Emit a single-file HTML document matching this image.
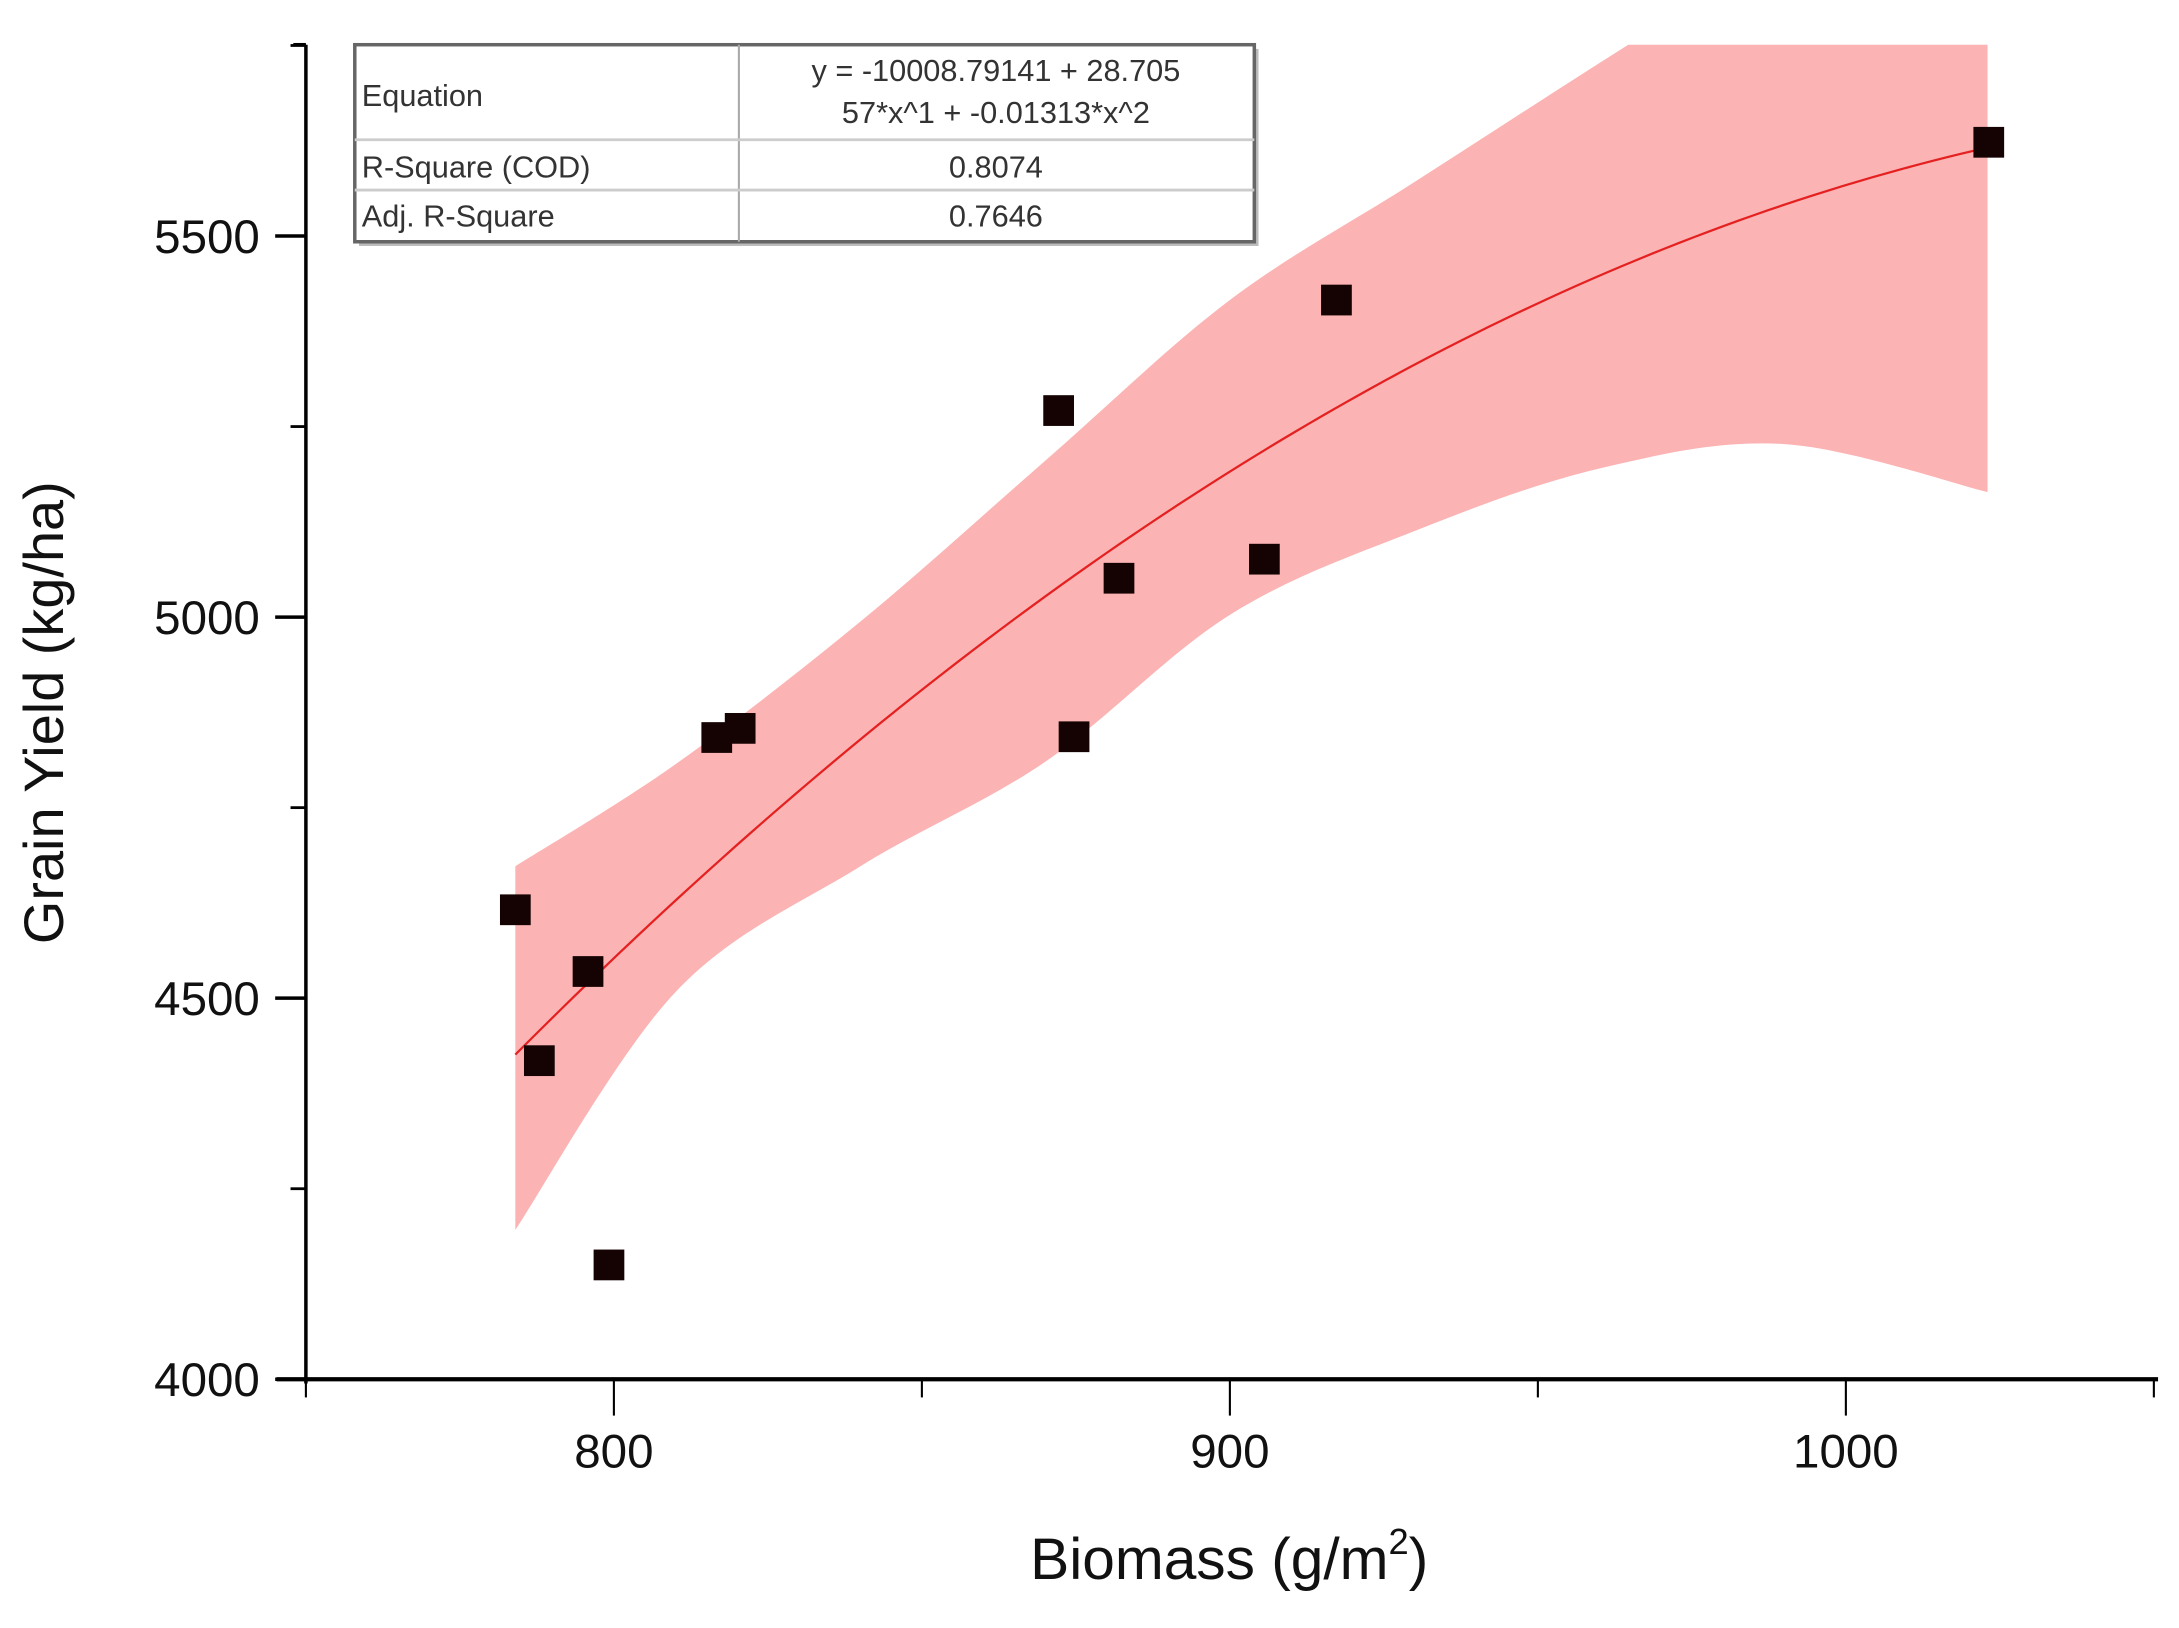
<!DOCTYPE html>
<html><head><meta charset="utf-8">
<style>
html,body{margin:0;padding:0;background:#fff;}
svg{display:block;}
text{font-family:"Liberation Sans",sans-serif;}
</style></head>
<body>
<svg id="chart" width="2179" height="1628" viewBox="0 0 1560 1165" preserveAspectRatio="none" xmlns="http://www.w3.org/2000/svg">
<defs><clipPath id="plotclip"><rect x="219" y="32" width="1326" height="955"/></clipPath></defs>
<g id="band" clip-path="url(#plotclip)"></g>
<g id="fit" clip-path="url(#plotclip)"></g>
<g id="pts"></g>
<g id="axes"></g>
<g id="table">
  <rect x="257" y="35" width="644" height="141" fill="#bbb"/>
  <rect x="254" y="32" width="644" height="141" fill="#fff" stroke="#666" stroke-width="2.5"/>
  <line x1="529" y1="32" x2="529" y2="173" stroke="#aaa" stroke-width="1.5"/>
  <line x1="254" y1="100" x2="898" y2="100" stroke="#ccc" stroke-width="2"/>
  <line x1="254" y1="136" x2="898" y2="136" stroke="#ccc" stroke-width="2"/>
  <text x="259" y="76" font-size="22" fill="#333">Equation</text>
  <text x="713" y="58" font-size="22" fill="#333" text-anchor="middle">y = -10008.79141 + 28.705</text>
  <text x="713" y="88" font-size="22" fill="#333" text-anchor="middle">57*x^1 + -0.01313*x^2</text>
  <text x="259" y="127" font-size="22" fill="#333">R-Square (COD)</text>
  <text x="713" y="127" font-size="22" fill="#333" text-anchor="middle">0.8074</text>
  <text x="259" y="162" font-size="22" fill="#333">Adj. R-Square</text>
  <text x="713" y="162" font-size="22" fill="#333" text-anchor="middle">0.7646</text>
</g>
<text x="45" y="510" font-size="40" fill="#111" text-anchor="middle" transform="rotate(-90 45 510)">Grain Yield (kg/ha)</text>
<text x="880" y="1130" font-size="42" fill="#111" text-anchor="middle">Biomass (g/m<tspan font-size="26" dy="-18">2</tspan><tspan dy="18">)</tspan></text>
</svg>
<script>
const xs = [784.0, 787.9, 795.8, 799.2, 816.7, 820.5, 872.2, 874.7, 882.0, 905.6, 917.3, 1023.2];
const ys = [4616, 4418, 4535, 4150, 4842, 4854, 5271, 4843, 5051, 5076, 5416, 5623];
const bandX = [784, 810, 840, 870, 900, 930, 960, 990, 1023];
const bandUpper = [4673, 4807, 4994, 5205, 5416, 5571, 5727, 5880, 6050];
const bandLower = [4196, 4508, 4673, 4810, 5003, 5113, 5195, 5227, 5164];
const coef = [-10008.79141, 28.70557, -0.01313];
const xTicks = [800, 900, 1000];
const xMinor = [750, 850, 950, 1050];
const yTicks = [4000, 4500, 5000, 5500];
const yMinor = [4250, 4750, 5250, 5750];

const NS = "http://www.w3.org/2000/svg";
const X = v => 219 + (v - 750) * 4.41;
const Y = v => 987 - (v - 4000) * 0.5454;
function mk(tag, attrs, parent){const e=document.createElementNS(NS,tag);for(const k in attrs)e.setAttribute(k,attrs[k]);parent.appendChild(e);return e;}
function smooth(pts, start){
  let s = (start?'M':'L')+pts[0][0]+','+pts[0][1];
  for(let i=0;i<pts.length-1;i++){
    const p0=pts[Math.max(0,i-1)],p1=pts[i],p2=pts[i+1],p3=pts[Math.min(pts.length-1,i+2)];
    const c1=[p1[0]+(p2[0]-p0[0])/6,p1[1]+(p2[1]-p0[1])/6];
    const c2=[p2[0]-(p3[0]-p1[0])/6,p2[1]-(p3[1]-p1[1])/6];
    s+=' C'+c1[0]+','+c1[1]+' '+c2[0]+','+c2[1]+' '+p2[0]+','+p2[1];
  }
  return s;
}

// band
const up = bandX.map((x,i)=>[X(x),Y(bandUpper[i])]);
const lo = bandX.map((x,i)=>[X(x),Y(bandLower[i])]).reverse();
const band = mk('path',{d:smooth(up,true)+' '+smooth(lo,false)+' Z',fill:'#fbb3b3'},document.getElementById('band'));



// fit
let fd='';
const x0 = Math.min(...xs), x1 = Math.max(...xs);
for(let i=0;i<=100;i++){const x=x0+(x1-x0)*i/100;const y=coef[0]+coef[1]*x+coef[2]*x*x;fd+=(i?'L':'M')+X(x).toFixed(2)+','+Y(y).toFixed(2)+' ';}
const fit = mk('path',{d:fd,fill:'none',stroke:'#e52020','stroke-width':1.6},document.getElementById('fit'));



// points
const pg=document.getElementById('pts');
xs.forEach((x,i)=>{
  const r = mk('rect',{x:X(x)-11,y:Y(ys[i])-11,width:22,height:22,fill:'#150303'},pg);
  
  
});

// axes
const ag=document.getElementById('axes');
const yl = mk('line',{x1:219,y1:32,x2:219,y2:990,stroke:'#000','stroke-width':2.5},ag);


mk('line',{x1:210,y1:32,x2:219,y2:32,stroke:'#000','stroke-width':2.5},ag);
const xl = mk('line',{x1:198,y1:987,x2:1545,y2:987,stroke:'#000','stroke-width':3},ag);


xTicks.forEach(v=>{
  mk('line',{x1:X(v),y1:987,x2:X(v),y2:1013,stroke:'#000','stroke-width':1.5},ag);
  const t=mk('text',{x:X(v),y:1050,'font-size':34,'text-anchor':'middle',fill:'#111'},ag);
  t.textContent=v;
  
  
});
xMinor.forEach(v=>mk('line',{x1:X(v),y1:987,x2:X(v),y2:1000,stroke:'#000','stroke-width':1.5},ag));
yTicks.forEach(v=>{
  mk('line',{x1:197,y1:Y(v),x2:219,y2:Y(v),stroke:'#000','stroke-width':2.5},ag);
  const t=mk('text',{x:186,y:Y(v)+12,'font-size':34,'text-anchor':'end',fill:'#111'},ag);
  t.textContent=v;
  
  
});
yMinor.forEach(v=>mk('line',{x1:208,y1:Y(v),x2:219,y2:Y(v),stroke:'#000','stroke-width':2},ag));
</script>
</body></html>
